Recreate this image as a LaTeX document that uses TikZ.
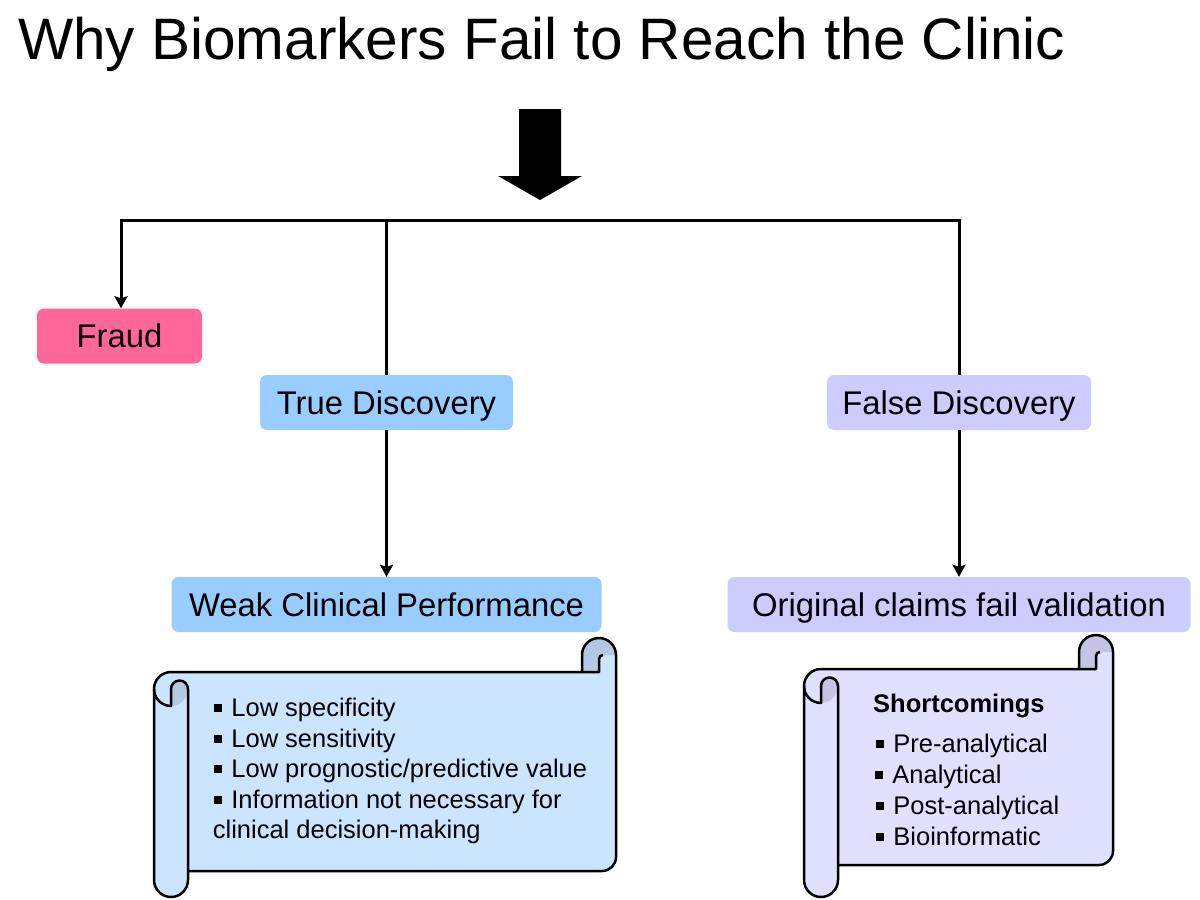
\documentclass[tikz,border=0pt]{standalone}
\usepackage{fontspec}
\setmainfont{Liberation Sans}
\usetikzlibrary{arrows.meta}
\definecolor{fraudc}{HTML}{FF6699}
\definecolor{truec}{HTML}{99CCFF}
\definecolor{falsec}{HTML}{CCCCFF}
\definecolor{scrollA}{HTML}{CCE5FF}
\definecolor{scrollAd}{HTML}{B3C9E3}
\definecolor{scrollB}{HTML}{E0E0FF}
\definecolor{scrollBd}{HTML}{C4C4E4}
\newcommand\mybul{\rule[4.3pt]{7.7pt}{7.7pt}\hspace{9.5pt}}
% #1 L, #2 T, #3 R, #4 B (roll bottom), #5 body bottom, #6 body colour, #7 curl colour
\newcommand\drawscroll[7]{%
 \fill[#6] (#1,{#2+51}) arc[start angle=180,end angle=270,radius=17] -- ({#3-34},{#2+34}) -- ({#3-34},{#2+17}) arc[start angle=180,end angle=360,radius=17] -- (#3,{#5-14}) arc[start angle=0,end angle=90,radius=14] -- ({#1+34},#5) -- ({#1+34},{#4-17}) arc[start angle=0,end angle=180,radius=17] -- cycle;
 \fill[#7] ({#3-34},{#2+34}) -- ({#3-34},{#2+17}) arc[start angle=180,end angle=360,radius=17] -- ({#3-13},{#2+17}) arc[start angle=270,end angle=180,radius=4] -- ({#3-17},{#2+34}) -- cycle;
 \fill[#7] ({#1+17},{#2+68}) -- ({#1+17},{#2+51}) arc[start angle=180,end angle=360,radius=8.5] arc[start angle=0,end angle=90,radius=17] -- cycle;
 \draw[scrollline] (#1,{#2+51}) arc[start angle=180,end angle=270,radius=17] -- ({#3-34},{#2+34}) -- ({#3-34},{#2+17}) arc[start angle=180,end angle=360,radius=17] -- (#3,{#5-14}) arc[start angle=0,end angle=90,radius=14] -- ({#1+34},#5) -- ({#1+34},{#4-17}) arc[start angle=0,end angle=180,radius=17] -- cycle;
 \draw[scrollline] ({#3-34},{#2+34}) -- ({#3-17},{#2+34}) -- ({#3-17},{#2+21}) arc[start angle=180,end angle=270,radius=4];
 \draw[scrollline] (#1,{#2+51}) arc[start angle=180,end angle=90,radius=17] -- ({#1+17},{#2+51}) arc[start angle=180,end angle=360,radius=8.5] -- ({#1+34},#5);
}
\tikzset{
 box/.style={rounded corners=7pt, inner sep=0pt, minimum height=55pt, align=center,
   text height=23.5pt, text depth=0pt,
   font=\fontsize{32.8}{39}\selectfont},
 conn/.style={line width=3pt, black},
 tip/.style={-{Stealth[length=12pt,width=13pt,inset=2pt]}},
 scrollline/.style={line width=2.5pt, black, line join=round},
 stext/.style={anchor=base west, inner sep=0pt, font=\fontsize{25.5}{31}\selectfont},
}
\begin{document}
\begin{tikzpicture}[x=1pt,y=-1pt]
\useasboundingbox[fill=white] (0,0) rectangle (1200,900);

\node[anchor=base west, inner sep=0pt, font=\fontsize{58.5}{70}\selectfont] (title) at (18,59) {Why Biomarkers Fail to Reach the Clinic};

% big arrow
\fill[black] (519,109) -- (561,109) -- (561,176) -- (582,176) -- (540,200) -- (498,176) -- (519,176) -- cycle;

\node[box, fill=fraudc, minimum width=165pt] (fraud) at (119.5,336) {Fraud};
\node[box, fill=truec, minimum width=253pt] (true) at (386.5,402.5) {True Discovery};
\node[box, fill=falsec, minimum width=264pt] (false) at (959,402.5) {False Discovery};
\node[box, fill=truec, minimum width=430pt] (weak) at (386.5,604.5) {Weak Clinical Performance};
\node[box, fill=falsec, minimum width=463pt] (orig) at (959,604.5) {Original claims fail validation};

\coordinate (jL) at (121,220);
\coordinate (jR) at (959,220);
\draw[conn, tip] (false.north) -- (jR) -- (jL) -- (jL |- fraud.north);
\draw[conn] (true.north |- jL) -- (true.north);
\draw[conn, tip] (true.south) -- (weak.north);
\draw[conn, tip] (false.south) -- (orig.north);

% scrolls
\drawscroll{154}{638}{616}{897}{871}{scrollA}{scrollAd}
\drawscroll{804}{635}{1113}{897}{865}{scrollB}{scrollBd}

\node[stext] (a1) at (214,716) {\mybul Low specificity};
\node[stext] (a2) at (214,747) {\mybul Low sensitivity};
\node[stext] (a3) at (214,777) {\mybul Low prognostic/predictive value};
\node[stext] (a4) at (214,808) {\mybul Information not necessary for};
\node[stext] (a5) at (212.7,838) {clinical decision-making};

\node[stext, font=\fontsize{25.5}{31}\selectfont\bfseries] (b0) at (873,712) {Shortcomings};
\node[stext] (b1) at (876,752) {\mybul Pre-analytical};
\node[stext] (b2) at (875,783) {\mybul Analytical};
\node[stext] (b3) at (876,814) {\mybul Post-analytical};
\node[stext] (b4) at (876,845) {\mybul Bioinformatic};
\end{tikzpicture}
\end{document}
